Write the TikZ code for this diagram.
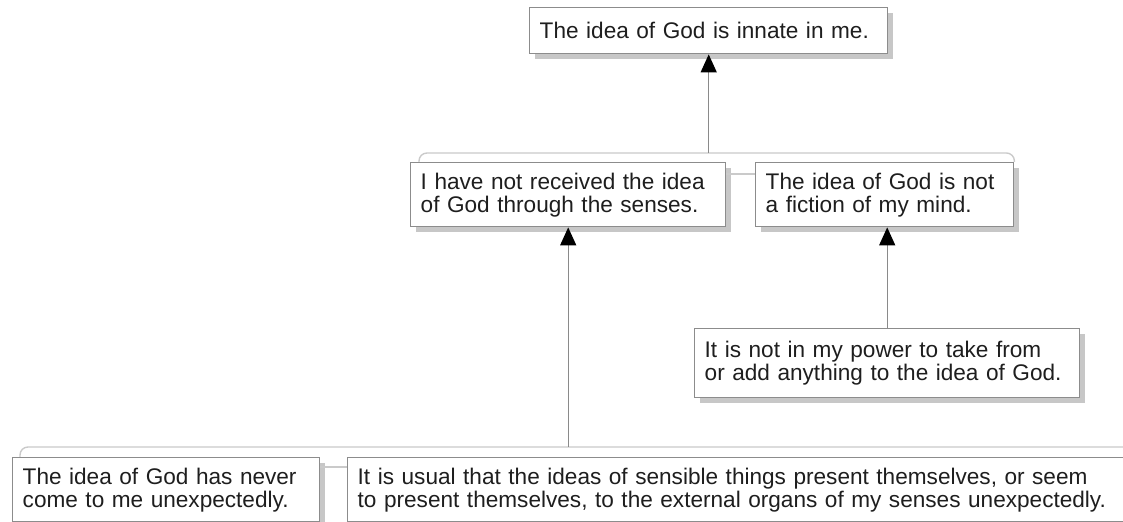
\documentclass[tikz,border=0pt]{standalone}
\usepackage{fontspec}
\setmainfont{Liberation Sans}
\usepackage{tikz}
\usetikzlibrary{arrows.meta, shadows}

\definecolor{boxgray}{HTML}{8C8C8C}
\definecolor{textgray}{HTML}{1E1E1E}
\definecolor{bargray}{HTML}{CACACA}
\definecolor{linegray}{HTML}{8A8A8A}

\begin{document}
\begin{tikzpicture}[
            x = 0.5pt, y = -0.5pt, % one unit per pixel, y downwards
            > = {Triangle[length=9pt, width=8pt, color=black]}, % arrow head style
            font = \fontsize{11.3pt}{11.5pt}\selectfont,
            semithick, % line style
        ]

        \tikzstyle{claim}=[
            draw = boxgray,
            line width = 0.7pt,
            fill = white,
            text = textgray,
            anchor = north west,
            align = left,
            inner xsep = 5pt,
            drop shadow = {shadow xshift=2.5pt, shadow yshift=-2.5pt, opacity=0.22, fill=black}
        ]
        \tikzstyle{bracket}=[draw = bargray, line width = 0.7pt, rounded corners = 4pt]
        \tikzstyle{support}=[draw = linegray, line width = 0.7pt, ->]

        \clip (0,0) rectangle (1123,522);

        \node[claim, text width=169pt, minimum height=23pt] (innate) at (529,7)
            {The idea of God is innate in me.};
        \node[claim, text width=147.5pt, minimum height=32pt] (senses) at (410,162)
            {I have not received the idea\\of God through the senses.};
        \node[claim, text width=119pt, minimum height=32pt] (fiction) at (755,162)
            {The idea of God is not\\a fiction of my mind.};
        \node[claim, text width=182.5pt, minimum height=34.5pt] (power) at (694,328)
            {It is not in my power to take from\\or add anything to the idea of God.};
        \node[claim, text width=143.5pt, minimum height=32pt] (never) at (12,457)
            {The idea of God has never\\come to me unexpectedly.};
        \node[claim, text width=385pt, minimum height=32pt] (usual) at (347,457)
            {It is usual that the ideas of sensible things present themselves, or seem\\to present themselves, to the external organs of my senses unexpectedly.};

        % joins of the two groups
        \coordinate (topjoin) at (innate.south |- 0,153);
        \coordinate (lowjoin) at (senses.south |- 0,447);
        \coordinate (lowend) at (1135,447);

        \draw[bracket] ([xshift=4.5pt]senses.north west) -- ++(0,-9) -| (fiction.north east);
        \draw[bracket] ([yshift=-6pt]senses.north east) -- ([yshift=-6pt]fiction.north west);
        \draw[bracket] ([xshift=4pt]never.north west) -- ++(0,-10) -- (lowend);
        \draw[bracket] ([yshift=-5pt]never.north east) -- ([yshift=-5pt]usual.north west);

        \draw[support] (topjoin) -- (innate.south);
        \draw[support] (lowjoin) -- (senses.south);
        \draw[support] (power.north) -- (power.north |- fiction.south);
    \end{tikzpicture}
\end{document}
